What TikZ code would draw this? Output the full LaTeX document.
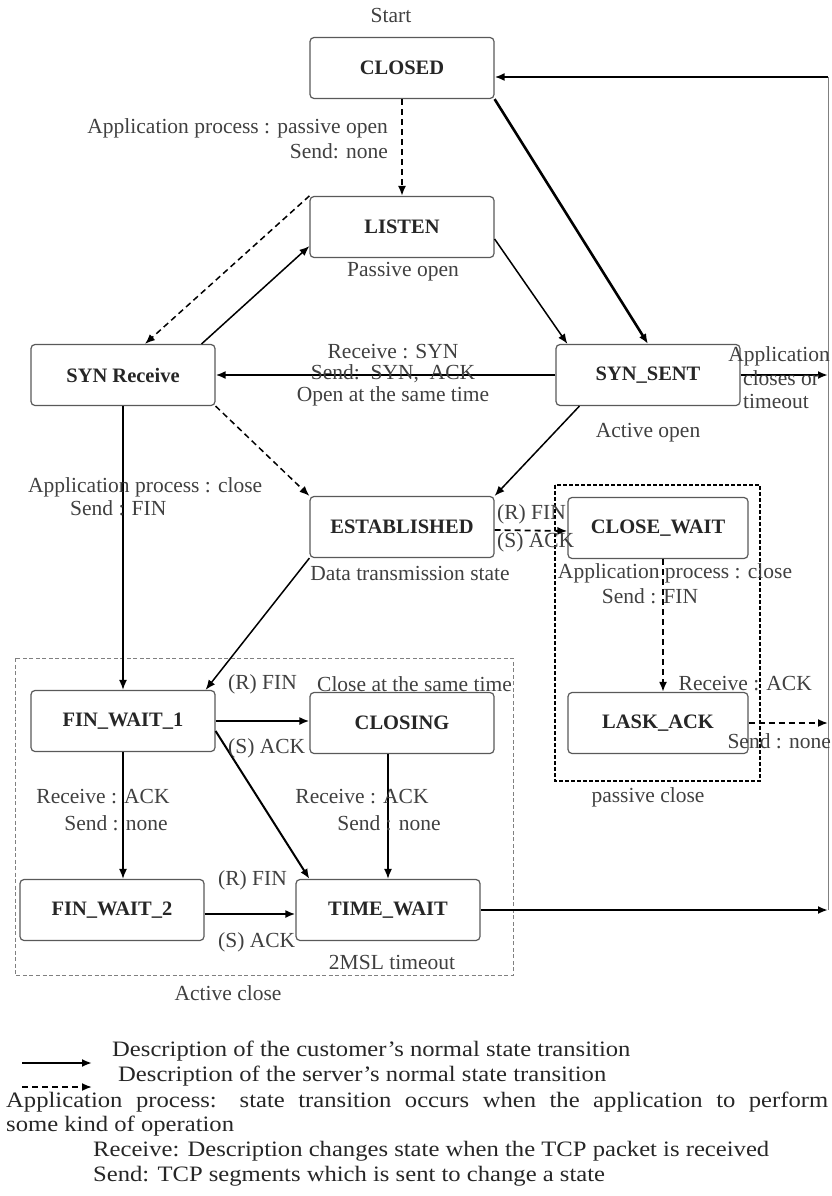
\documentclass[tikz,border=0pt]{standalone}
\usepackage{fontspec}
\setmainfont{Liberation Serif}
\newfontfamily\legfont[FakeStretch=1.12, Ligatures=TeX]{Liberation Serif}
\usetikzlibrary{arrows.meta}
\begin{document}
\begin{tikzpicture}[x=1pt, y=-1pt,
	state/.style={draw=black!65, line width=1.2pt, rounded corners=4pt, minimum width=184pt, minimum height=61pt, font=\fontsize{20.5}{24}\selectfont\bfseries, text=black!85},
	lbl/.style={inner sep=0pt, font=\fontsize{21.5}{24}\selectfont, text=black!75},
	leg/.style={inner sep=0pt, anchor=west, font=\legfont\fontsize{22}{25}\selectfont, text=black!85},
	trans/.style={-{Latex[length=10pt,width=8pt]}, line width=1.5pt},
	heavy/.style={trans, line width=2.6pt},
	srv/.style={-{Latex[length=10pt,width=8pt]}, line width=1.8pt, dash pattern=on 6pt off 4pt}]
%	1px = 1pt, y軸は下向き
	\useasboundingbox (0,0) rectangle (831,1196);
	\node[state] (closed) at (402,68) {CLOSED}; %初期状態
	\node[state] (listen) at (402,227) {LISTEN};
	\node[state] (synrcv) at (123,375) {SYN Receive};
	\node[state] (synsent) at (648,375) {SYN\_SENT};
	\node[state] (estab) at (402,527) {ESTABLISHED}; %データ転送
	\node[state, minimum width=180pt] (closewait) at (658,528) {CLOSE\_WAIT};
	\node[state, minimum width=180pt] (lastack) at (658,723) {LASK\_ACK};
	\node[state] (finwait1) at (123,721) {FIN\_WAIT\_1};
	\node[state] (closing) at (402,723) {CLOSING};
	\node[state] (finwait2) at (112,910) {FIN\_WAIT\_2};
	\node[state] (timewait) at (388,910) {TIME\_WAIT};
	\coordinate (rtop) at (828,77); %右端の縦線
	\coordinate (rsyn) at (828,375);
	\coordinate (rlast) at (828,723);
	\coordinate (rbot) at (828,910);
%	点線の枠
	\draw[gray, line width=1pt, dash pattern=on 4pt off 2.5pt] (15,658) rectangle (513,975); %能動クローズ
	\draw[line width=1.7pt, dash pattern=on 4pt off 2pt] (555,485) rectangle (760,781); %受動クローズ
%	遷移
	\draw[srv] (closed.south) -- (listen.north);
	\draw[heavy] (closed.south east) -- (synsent.north);
	\draw[trans] ([yshift=-12pt]listen.east) -- ([xshift=12pt]synsent.north west);
	\draw[trans] ([xshift=-14pt]synrcv.north east) -- ([yshift=12pt]listen.south west);
	\draw[srv, line width=1.5pt] (listen.north west) -- ([xshift=22pt]synrcv.north);
	\draw[heavy] (synsent.west) -- (synrcv.east);
	\draw[heavy] (synsent.east) -- (rsyn);
	\draw[srv, line width=1.5pt] (synrcv.south east) -- (estab.north west);
	\draw[trans] ([xshift=24pt]synsent.south west) -- (estab.north east);
	\draw[trans] (synrcv.south) -- (finwait1.north);
	\draw[srv] ([yshift=-3pt]estab.east) -- ([yshift=-3pt]closewait.west);
	\draw[srv, line width=2.2pt] ([xshift=5pt]closewait.south) -- ([xshift=5pt]lastack.north);
	\draw[srv] (lastack.east) -- (rlast);
	\draw[trans] (estab.south west) -- ([xshift=-10pt]finwait1.north east);
	\draw[heavy, line width=2pt] (finwait1.east) -- (finwait1.east -| closing.west);
	\draw[heavy, line width=2pt] ([yshift=-10pt]finwait1.east) -- ([xshift=14pt]timewait.north west);
	\draw[trans] (finwait1.south) -- (finwait1.south |- finwait2.north);
	\draw[trans] (timewait.north |- closing.south) -- (timewait.north);
	\draw[heavy, line width=2pt] ([yshift=-4pt]finwait2.east) -- ([yshift=-4pt]timewait.west);
	\draw[heavy] (timewait.east) -- (rbot);
	\draw[gray, line width=1pt] (rbot) -- (rtop); %右端
	\draw[heavy] (rtop) -- (rtop -| closed.east);
%	ラベル
	\node[lbl] (start) at (391,15) {Start};
	\node[lbl, anchor=east] (popen1) at (388,128) {Application process : passive open};
	\node[lbl, anchor=east] (popen2) at (388,151) {Send: none};
	\node[lbl] (passive) at (403,272) {Passive open};
	\node[lbl] (simul1) at (393,352) {Receive : SYN};
	\node[lbl] (simul2) at (393,374) {Send:\ \ SYN,\ \ ACK};
	\node[lbl] (simul3) at (393,396) {Open at the same time};
	\node[lbl, anchor=east] (appcl1) at (830,356) {Application};
	\node[lbl, anchor=west] (appcl2) at (743,378) {closes or};
	\node[lbl, anchor=west] (appcl3) at (743,401) {timeout};
	\node[lbl] (active) at (648,433) {Active open};
	\node[lbl, anchor=west] (close1) at (28,487) {Application process : close};
	\node[lbl, anchor=west] (close2) at (70,508) {Send : FIN};
	\node[lbl] (data) at (410,573) {Data transmission state};
	\node[lbl, anchor=west] (rfin1) at (497,514) {(R) FIN};
	\node[lbl, anchor=west] (sack1) at (497,542) {(S) ACK};
	\node[lbl] (pclose1) at (675,573) {Application process : close};
	\node[lbl] (pclose2) at (650,596) {Send : FIN};
	\node[lbl, anchor=east] (prcv) at (812,684) {Receive : ACK};
	\node[lbl, anchor=east] (psend) at (831,741) {Send : none};
	\node[lbl] (passclose) at (648,797) {passive close};
	\node[lbl, anchor=west] (rfin2) at (228,684) {(R) FIN};
	\node[lbl, anchor=east] (samec) at (512,684) {Close at the same time};
	\node[lbl, anchor=west] (sack2) at (228,748) {(S) ACK};
	\node[lbl] (rack1) at (103,797) {Receive : ACK};
	\node[lbl] (snone1) at (116,823) {Send : none};
	\node[lbl] (rack2) at (362,797) {Receive : ACK};
	\node[lbl] (snone2) at (389,823) {Send : none};
	\node[lbl, anchor=west] (rfin3) at (218,880) {(R) FIN};
	\node[lbl, anchor=west] (sack3) at (218,942) {(S) ACK};
	\node[lbl] (msl) at (392,962) {2MSL timeout};
	\node[lbl] (actclose) at (228,993) {Active close};
%	凡例
	\coordinate (lg1a) at (22,1063);
	\coordinate (lg1b) at (92,1063);
	\coordinate (lg2a) at (22,1087);
	\coordinate (lg2b) at (92,1087);
	\draw[heavy, line width=2.2pt] (lg1a) -- (lg1b);
	\draw[srv] (lg2a) -- (lg2b);
	\node[leg] (leg1) at (112,1051) {Description of the customer’s normal state transition};
	\node[leg] (leg2) at (118,1076) {Description of the server’s normal state transition};
	\node[leg] (leg3) at (6,1102) {\makebox[822pt][s]{Application process: state transition occurs when the application to perform}};
	\node[leg] (leg4) at (6,1126) {some kind of operation};
	\node[leg] (leg5) at (93,1151) {Receive: Description changes state when the TCP packet is received};
	\node[leg] (leg6) at (93,1176) {Send: TCP segments which is sent to change a state};
\end{tikzpicture}
\end{document}
